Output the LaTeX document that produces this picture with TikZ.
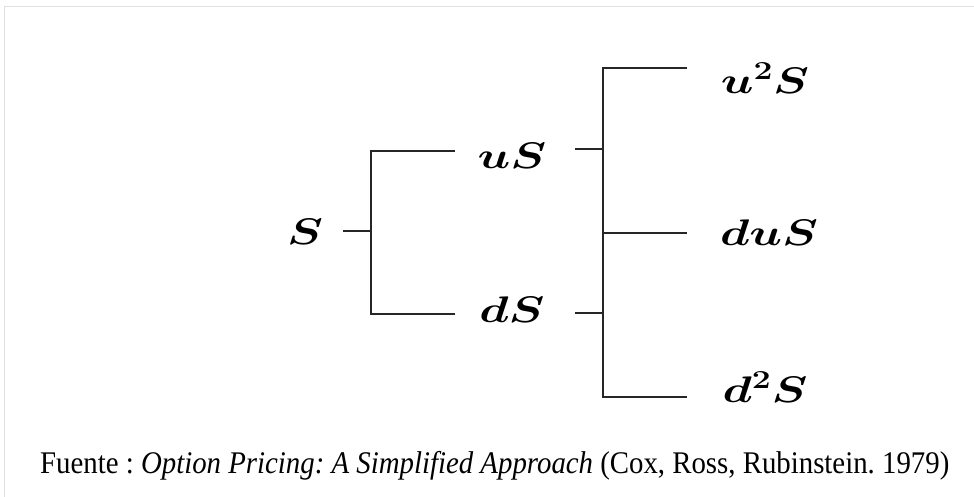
\RequirePackage{fix-cm}
\documentclass[tikz,border=0pt]{standalone}
\usepackage{amsmath}
\usepackage{fontspec}
\setmainfont{Liberation Serif}
\frenchspacing
\begin{document}
\begin{tikzpicture}[x=1pt,y=-1pt,
  branch/.style={draw=black!85,line width=2.2pt},
  val/.style={inner sep=0pt,xscale=1.3,font=\fontsize{37}{42}\selectfont},
  caption/.style={inner sep=0pt,anchor=base west,xscale=0.915,font=\fontsize{31.5}{36}\selectfont}]
\useasboundingbox (0,0) rectangle (974,497);
% thin frame on the top and left edges
\draw[black!12,line width=1pt] (4,497) -- (4,7) -- (974,7);

% values at each node of the tree
\node[val] (s)   at (305,232) {$\boldsymbol{S}$};
\node[val] (us)  at (512,156) {$\boldsymbol{uS}$};
\node[val] (ds)  at (512,310) {$\boldsymbol{dS}$};
\node[val] (uus) at (765,78)  {$\boldsymbol{u^2S}$};
\node[val] (dus) at (769,233) {$\boldsymbol{duS}$};
\node[val] (dds) at (765,387) {$\boldsymbol{d^2S}$};

% junction points of the brackets
\coordinate (j1) at (371,231);
\coordinate (j2) at (603,233);

% first step
\draw[branch] (343,231) -- (j1);
\draw[branch] (455,151) -- (j1 |- 0,151) -- (j1 |- 0,314) -- (455,314);
% second step
\draw[branch] (575,149) -- (j2 |- 0,149);
\draw[branch] (575,313) -- (j2 |- 0,313);
\draw[branch] (687,68) -- (j2 |- 0,68) -- (j2 |- 0,397) -- (687,397);
\draw[branch] (j2) -- (687,233);

% source line
\node[caption] (src) at (40,473) {Fuente : \textit{Option Pricing: A Simplified Approach} (Cox, Ross, Rubinstein. 1979)};
\end{tikzpicture}
\end{document}
